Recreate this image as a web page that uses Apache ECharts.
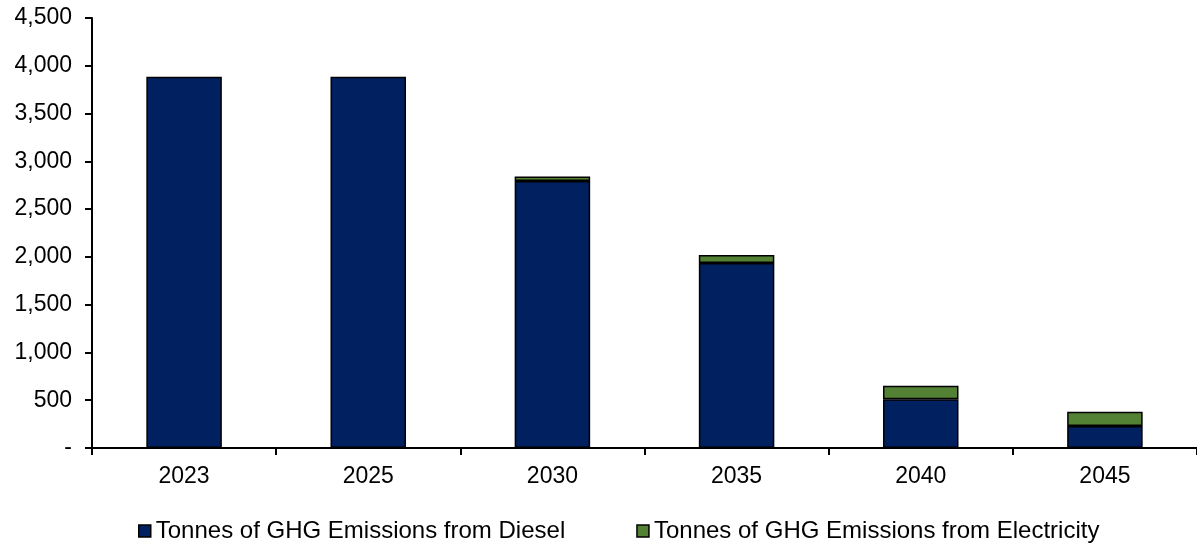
<!DOCTYPE html>
<html>
<head>
<meta charset="utf-8">
<script src="https://cdn.jsdelivr.net/npm/echarts@6/dist/echarts.min.js"></script>
<style>
  html, body { margin: 0; padding: 0; background: #fff; }
  #chart { width: 1197px; height: 546px; }
</style>
</head>
<body>
<div id="chart"></div>
<script>
// 数据
const years = ['2023', '2025', '2030', '2035', '2040', '2045'];
const diesel = [3885, 3885, 2795, 1935, 510, 230];
const electricity = [0, 0, 45, 85, 142, 150];
const seriesNames = ['Tonnes of GHG Emissions from Diesel', 'Tonnes of GHG Emissions from Electricity'];

const chart = echarts.init(document.getElementById('chart'));
const font = 'Liberation Sans, Arial, sans-serif';

const option = {
  animation: false,
  grid: { left: 92, top: 18, width: 1110, height: 430 },
  legend: {
    top: 514,
    left: 133,
    itemGap: 71,
    itemWidth: 12,
    itemHeight: 12,
    icon: 'rect',
    textStyle: { fontFamily: font, fontSize: 24, color: '#000' },
    data: seriesNames.map(n => ({ name: n, itemStyle: { borderColor: '#000', borderWidth: 1.5 } }))
  },
  xAxis: {
    type: 'category',
    data: years,
    axisLine: { lineStyle: { color: '#000', width: 2 } },
    axisTick: { show: true, length: 7, lineStyle: { color: '#000', width: 2 } },
    axisLabel: { fontFamily: font, fontSize: 23, color: '#000', margin: 17 }
  },
  yAxis: {
    type: 'value',
    min: 0,
    max: 4500,
    interval: 500,
    splitLine: { show: false },
    axisLine: { show: true, lineStyle: { color: '#000', width: 2 } },
    axisTick: { show: true, length: 7, lineStyle: { color: '#000', width: 2 } },
    axisLabel: {
      fontFamily: font, fontSize: 23, color: '#000', margin: 20,
      formatter: v => v === 0 ? '-' : v.toLocaleString('en-US')
    }
  },
  series: [
    {
      name: seriesNames[0],
      type: 'bar',
      stack: 'total',
      barWidth: '41%',
      data: diesel,
      itemStyle: { color: '#002060', borderColor: '#000', borderWidth: 1.5 }
    },
    {
      name: seriesNames[1],
      type: 'bar',
      stack: 'total',
      barWidth: '41%',
      data: electricity.map(v => v === 0 ? '-' : v),
      itemStyle: { color: '#548235', borderColor: '#000', borderWidth: 1.5 }
    }
  ]
};
chart.setOption(option);
</script>
</body>
</html>
